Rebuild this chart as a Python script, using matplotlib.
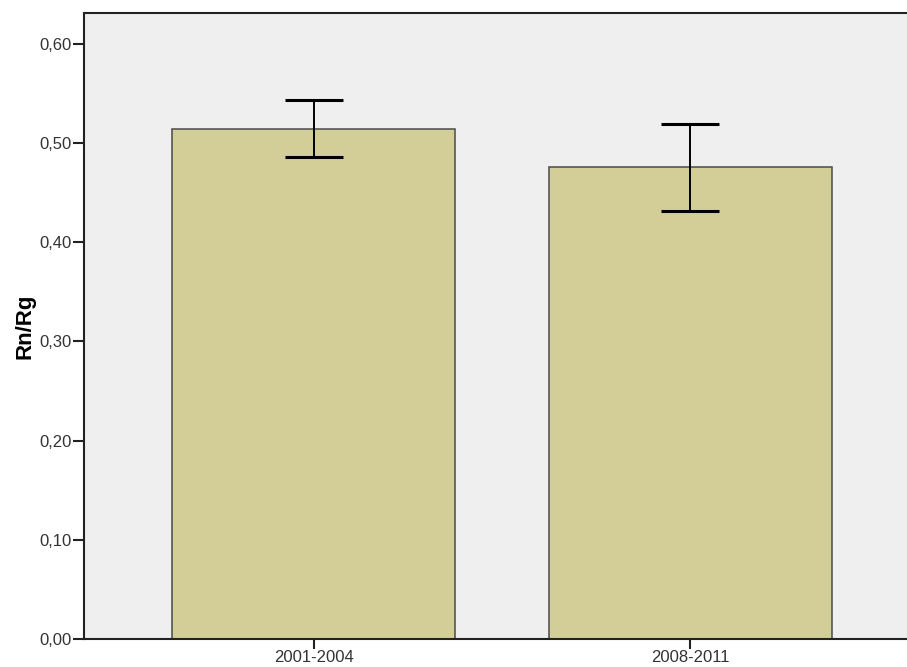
import numpy as np
import matplotlib.pyplot as plt

periods = ['2001-2004', '2008-2011']
mean_ratio = [0.514, 0.476]
ci_low = [0.486, 0.431]
ci_high = [0.543, 0.519]

plt.rcParams['font.family'] = ['Liberation Sans', 'DejaVu Sans']

fig = plt.figure(figsize=(9.07, 6.67), dpi=100)
ax = fig.add_axes([0.0926, 0.042, 0.9217, 0.9385])
ax.set_facecolor('#efefef')

x = np.arange(len(periods))
mean = np.array(mean_ratio)
err = [mean - np.array(ci_low), np.array(ci_high) - mean]

ax.bar(x, mean, width=0.75, color='#d3ce98', edgecolor='#4a4a4a', linewidth=1.1, zorder=2)
ax.errorbar(x, mean, yerr=err, fmt='none', ecolor='black', elinewidth=1.4,
            capsize=21.2, capthick=2.2, zorder=3)

ax.set_xlim(-0.609, 1.609)
ax.set_ylim(0, 0.631)
ax.set_yticks(np.arange(0, 0.61, 0.1))
ax.set_yticklabels([f'{v:.2f}'.replace('.', ',') for v in np.arange(0, 0.61, 0.1)])
ax.set_xticks(x)
ax.set_xticklabels(periods)

ax.tick_params(axis='y', length=8, width=1.5, color='#222222', labelsize=12,
               labelcolor='#333333', pad=1)
ax.tick_params(axis='x', length=7, width=1.5, color='#222222', labelsize=12,
               labelcolor='#333333', pad=1)

for side in ['left', 'bottom', 'top', 'right']:
    ax.spines[side].set_linewidth(1.5)
    ax.spines[side].set_color('#222222')

ax.set_ylabel('Rn/Rg', fontsize=16, fontweight='bold')
ax.yaxis.set_label_coords(-0.058, 0.5)

fig.savefig('out.png', dpi=100)
